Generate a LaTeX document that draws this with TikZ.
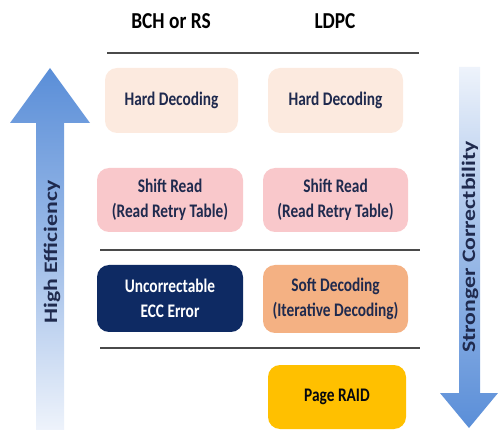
\documentclass[tikz,border=0pt]{standalone}
\usepackage{fontspec}
\setmainfont{Carlito}
\newfontfamily\narrowfont[FakeStretch=0.8]{Carlito}
\newfontfamily\headfont[FakeStretch=0.85]{Carlito}
\newfontfamily\widefont[FakeStretch=1.25]{Carlito}
\begin{document}
\begin{tikzpicture}[x=1pt,y=-1pt,
  box/.style={rectangle, rounded corners=12pt, draw=none, align=center,
    font=\narrowfont\bfseries\fontsize{19.2}{25}\selectfont, text=navytext, inner sep=2pt},
  header/.style={font=\headfont\bfseries\fontsize{22.8}{26}\selectfont, text=black},
  rule/.style={draw=rulegray, line width=1.3pt},
  axislabel/.style={rotate=90, font=\widefont\bfseries\fontsize{19}{22}\selectfont, text=navytext}]
\definecolor{navytext}{HTML}{1F2A4E}
\definecolor{rulegray}{HTML}{4A4A4A}
\definecolor{peach}{HTML}{FCEADF}
\definecolor{pinkbox}{HTML}{F9C8CB}
\definecolor{navybox}{HTML}{0E2A63}
\definecolor{orangebox}{HTML}{F4B183}
\definecolor{goldbox}{HTML}{FFC000}
\definecolor{arrowblue}{HTML}{5A8ED8}
\definecolor{arrowpale}{HTML}{EEF3FB}

\useasboundingbox (0,0) rectangle (498,430);

% upward arrow on the left
\shade[top color=arrowblue, bottom color=arrowpale, middle color=arrowblue!55!arrowpale]
  (36,430) -- (36,123) -- (10,123) -- (50,68) -- (90,123) -- (64,123) -- (64,430) -- cycle;
\node[axislabel] (eff) at (52,252) {High Efficiency};

% downward arrow on the right
\shade[top color=arrowpale, bottom color=arrowblue, middle color=arrowblue!55!arrowpale]
  (459,67) -- (459,393) -- (440,393) -- (469,428) -- (498,393) -- (480,393) -- (480,67) -- cycle;
\node[axislabel] (corr) at (470,247) {Stronger Correctbility};

% column headers
\node[header] (bch) at (171,21) {BCH or RS};
\node[header] (ldpc) at (335,21) {LDPC};

% separators
\coordinate (r1a) at (107,53);  \coordinate (r1b) at (419,53);
\coordinate (r2a) at (100,250); \coordinate (r2b) at (420,250);
\coordinate (r3a) at (100,348); \coordinate (r3b) at (420,348);
\draw[rule] (r1a) -- (r1b);
\draw[rule] (r2a) -- (r2b);
\draw[rule] (r3a) -- (r3b);

% decoding steps
\node[box, fill=peach, minimum width=133pt, minimum height=65pt] (hardL) at (171.5,100.5) {Hard Decoding};
\node[box, fill=peach, minimum width=135pt, minimum height=65pt] (hardR) at (335.5,100.5) {Hard Decoding};
\node[box, fill=pinkbox, minimum width=146pt, minimum height=64pt] (shiftL) at (170,200) {Shift Read\\(Read Retry Table)};
\node[box, fill=pinkbox, minimum width=145pt, minimum height=64pt] (shiftR) at (335.5,200) {Shift Read\\(Read Retry Table)};
\node[box, fill=navybox, text=white, minimum width=146pt, minimum height=67pt] (uecc) at (170,298.5) {Uncorrectable\\ECC Error};
\node[box, fill=orangebox, minimum width=145pt, minimum height=68pt] (soft) at (335.5,299) {Soft Decoding\\(Iterative Decoding)};
\node[box, fill=goldbox, text=black!80!navytext, minimum width=138pt, minimum height=64pt] (raid) at (337,397) {Page RAID};
\end{tikzpicture}
\end{document}
